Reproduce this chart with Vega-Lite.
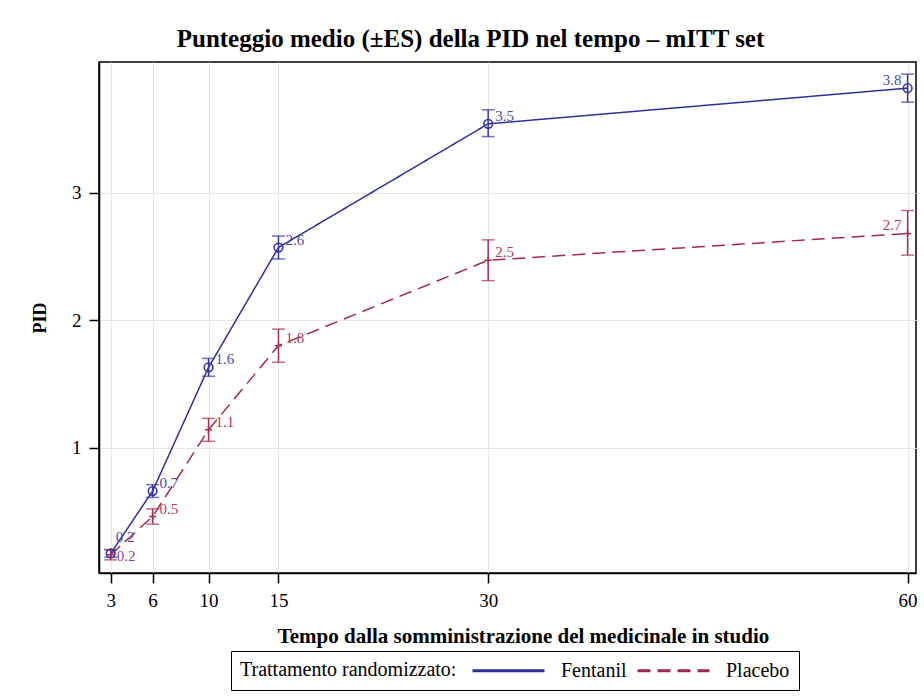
{
  "$schema": "https://vega.github.io/schema/vega-lite/v6.json",
  "autosize": "none",
  "width": 817,
  "height": 511,
  "padding": {"left": 99, "top": 62, "right": 8, "bottom": 125},
  "background": "white",
  "config": {
    "font": "Liberation Serif",
    "view": {"stroke": "black", "strokeWidth": 1.5},
    "axis": {
      "labelFont": "Liberation Serif",
      "titleFont": "Liberation Serif",
      "labelFontSize": 19,
      "titleFontSize": 19,
      "titleFontWeight": "bold",
      "labelColor": "black",
      "titleColor": "black",
      "domainColor": "black",
      "domainWidth": 1.5,
      "tickColor": "black",
      "tickWidth": 1.5,
      "tickSize": 10,
      "labelPadding": 8,
      "gridColor": "#e6e6e6",
      "gridWidth": 1
    },
    "legend": {
      "labelFont": "Liberation Serif",
      "titleFont": "Liberation Serif",
      "labelFontSize": 20,
      "titleFontSize": 20,
      "titleFontWeight": "normal",
      "labelColor": "black",
      "titleColor": "black",
      "symbolStrokeWidth": 3
    }
  },
  "title": {
    "text": "Punteggio medio (±ES) della PID nel tempo – mITT set",
    "font": "Liberation Serif",
    "fontSize": 25,
    "fontWeight": "bold",
    "color": "black",
    "anchor": "middle",
    "frame": "group",
    "dx": -37,
    "offset": 10
  },
  "data": {
    "values": [
      {"t": 3, "group": "Fentanil", "mean": 0.17, "lo": 0.14, "hi": 0.20},
      {"t": 6, "group": "Fentanil", "mean": 0.66, "lo": 0.61, "hi": 0.71},
      {"t": 10, "group": "Fentanil", "mean": 1.63, "lo": 1.56, "hi": 1.70},
      {"t": 15, "group": "Fentanil", "mean": 2.57, "lo": 2.48, "hi": 2.66},
      {"t": 30, "group": "Fentanil", "mean": 3.54, "lo": 3.44, "hi": 3.65},
      {"t": 60, "group": "Fentanil", "mean": 3.82, "lo": 3.71, "hi": 3.93},
      {"t": 3, "group": "Placebo", "mean": 0.16, "lo": 0.12, "hi": 0.20},
      {"t": 6, "group": "Placebo", "mean": 0.46, "lo": 0.40, "hi": 0.52},
      {"t": 10, "group": "Placebo", "mean": 1.14, "lo": 1.05, "hi": 1.23},
      {"t": 15, "group": "Placebo", "mean": 1.80, "lo": 1.67, "hi": 1.93},
      {"t": 30, "group": "Placebo", "mean": 2.47, "lo": 2.31, "hi": 2.63},
      {"t": 60, "group": "Placebo", "mean": 2.68, "lo": 2.51, "hi": 2.86}
    ]
  },
  "encoding": {
    "x": {
      "field": "t",
      "type": "quantitative",
      "scale": {"domain": [2.165, 60.6], "nice": false, "zero": false},
      "axis": {
        "values": [3, 6, 10, 15, 30, 60],
        "title": "Tempo dalla somministrazione del medicinale in studio",
        "titleFontSize": 21,
        "titlePadding": 15,
        "titleX": 424
      }
    },
    "y": {
      "field": "mean",
      "type": "quantitative",
      "scale": {"domain": [0.017, 4.025], "nice": false, "zero": false},
      "axis": {"values": [1, 2, 3], "title": "PID", "titlePadding": 22, "titleFontSize": 18}
    }
  },
  "layer": [
    {
      "mark": {"type": "line", "strokeWidth": 1.5},
      "encoding": {
        "color": {
          "field": "group",
          "type": "nominal",
          "scale": {"domain": ["Fentanil", "Placebo"], "range": ["#2f2f9c", "#a3294a"]},
          "legend": {
            "title": "Trattamento randomizzato:",
            "orient": "none",
            "legendX": 132,
            "legendY": 589,
            "direction": "horizontal",
            "titleOrient": "left",
            "titleLimit": 500,
            "labelLimit": 200,
            "strokeColor": "black",
            "padding": 9,
            "symbolType": "M-4,0L4,0",
            "symbolSize": 324,
            "labelOffset": 42,
            "columnPadding": 4,
            "titlePadding": 41
          }
        },
        "strokeDash": {
          "field": "group",
          "type": "nominal",
          "scale": {"domain": ["Fentanil", "Placebo"], "range": [[1, 0], [13, 7]]},
          "legend": {
            "title": "Trattamento randomizzato:",
            "orient": "none",
            "legendX": 132,
            "legendY": 589,
            "direction": "horizontal",
            "titleOrient": "left",
            "titleLimit": 500,
            "labelLimit": 200,
            "strokeColor": "black",
            "padding": 9,
            "symbolType": "M-4,0L4,0",
            "symbolSize": 324,
            "labelOffset": 42,
            "columnPadding": 4,
            "titlePadding": 41
          }
        }
      }
    },
    {
      "mark": {"type": "rule", "strokeWidth": 1.5},
      "encoding": {
        "y": {"field": "lo", "type": "quantitative"},
        "y2": {"field": "hi"},
        "color": {"condition": {"test": "datum.group === 'Fentanil'", "value": "#3434a8"}, "value": "#a8304e"}
      }
    },
    {
      "mark": {"type": "tick", "orient": "horizontal", "size": 13, "thickness": 1.5},
      "encoding": {
        "y": {"field": "lo", "type": "quantitative"},
        "color": {"condition": {"test": "datum.group === 'Fentanil'", "value": "#3434a8"}, "value": "#a8304e"}
      }
    },
    {
      "mark": {"type": "tick", "orient": "horizontal", "size": 13, "thickness": 1.5},
      "encoding": {
        "y": {"field": "hi", "type": "quantitative"},
        "color": {"condition": {"test": "datum.group === 'Fentanil'", "value": "#3434a8"}, "value": "#a8304e"}
      }
    },
    {
      "transform": [{"filter": "datum.group === 'Fentanil'"}],
      "mark": {"type": "point", "shape": "circle", "filled": false, "size": 75, "strokeWidth": 1.6, "color": "#3434a8", "opacity": 1}
    },
    {
      "transform": [{"filter": "datum.group === 'Placebo'"}],
      "mark": {"type": "point", "shape": "M-1,0L1,0M0,-1L0,1", "filled": false, "size": 50, "strokeWidth": 1.5, "color": "#a8304e", "opacity": 1}
    },
    {
      "transform": [{"filter": "datum.t !== 3 && datum.t !== 60"}],
      "mark": {"type": "text", "align": "left", "baseline": "middle", "dx": 7, "dy": -8, "fontSize": 15, "font": "Liberation Serif"},
      "encoding": {
        "text": {"field": "mean", "type": "quantitative", "format": ".1f"},
        "color": {"condition": {"test": "datum.group === 'Fentanil'", "value": "#4a4aa8"}, "value": "#b03a58"}
      }
    },
    {
      "transform": [{"filter": "datum.t === 3 && datum.group === 'Fentanil'"}],
      "mark": {"type": "text", "align": "left", "baseline": "middle", "dx": 5, "dy": -16, "fontSize": 15, "font": "Liberation Serif", "color": "#4a4aa8"},
      "encoding": {
        "text": {"field": "mean", "type": "quantitative", "format": ".1f"}
      }
    },
    {
      "transform": [{"filter": "datum.t === 3 && datum.group === 'Placebo'"}],
      "mark": {"type": "text", "align": "left", "baseline": "middle", "dx": 6, "dy": 1, "fontSize": 15, "font": "Liberation Serif", "color": "#8a4aa0"},
      "encoding": {
        "text": {"field": "mean", "type": "quantitative", "format": ".1f"}
      }
    },
    {
      "transform": [{"filter": "datum.t === 60"}],
      "mark": {"type": "text", "align": "right", "baseline": "middle", "dx": -6, "dy": -8, "fontSize": 15, "font": "Liberation Serif"},
      "encoding": {
        "text": {"field": "mean", "type": "quantitative", "format": ".1f"},
        "color": {"condition": {"test": "datum.group === 'Fentanil'", "value": "#4a4aa8"}, "value": "#b03a58"}
      }
    }
  ]
}
